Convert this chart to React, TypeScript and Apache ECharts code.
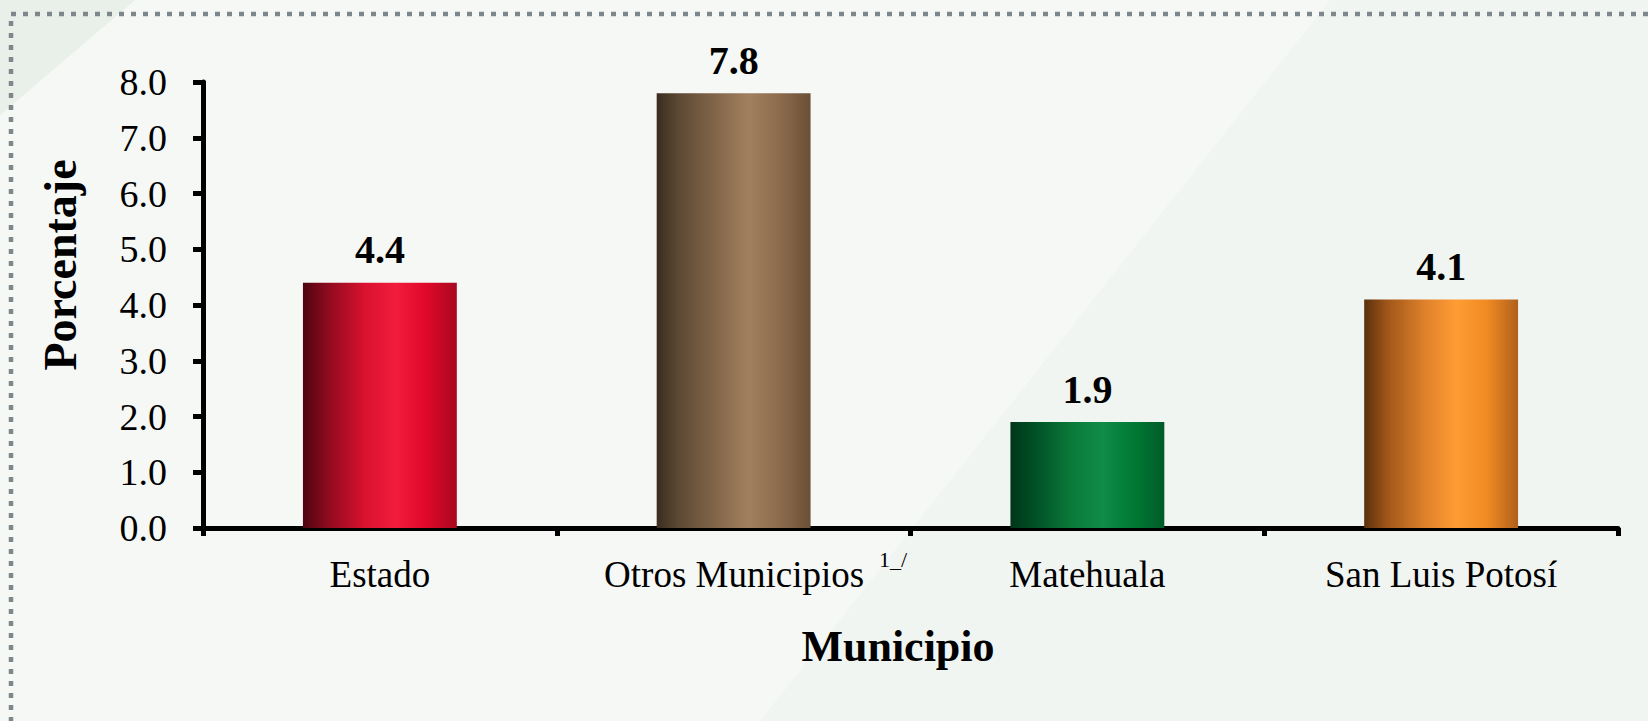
import React, { useEffect, useRef } from "react";
import * as echarts from "echarts";

const categories = ["Estado", "Otros Municipios", "Matehuala", "San Luis Potosí"];
const values = [4.4, 7.8, 1.9, 4.1];
const footnotes = ["", "1_/", "", ""];
const barColors = [
  ["#4e0410", "#8a0a1e", "#d8122f", "#f21c3c", "#e0082a", "#a8081f"],
  ["#3a2d20", "#5e4a34", "#85684c", "#a1805f", "#8c6b4c", "#6a5036"],
  ["#00361a", "#004f25", "#0b7a3a", "#0f8c48", "#007a35", "#005b27"],
  ["#5a300c", "#a0561a", "#e0822a", "#ff9c34", "#f08a22", "#b0601c"],
];
const gradStops = [0, 0.15, 0.4, 0.6, 0.8, 1];

const FONT = "'Liberation Serif', 'Times New Roman', serif";

export default function App() {
  const ref = useRef<HTMLDivElement>(null);
  useEffect(() => {
    if (!ref.current) return;
    const chart = echarts.init(ref.current, null, { renderer: "svg" });
    const data = values.map((v, i) => ({
      value: v,
      itemStyle: {
        color: new echarts.graphic.LinearGradient(
          0, 0, 1, 0,
          barColors[i].map((c, k) => ({ offset: gradStops[k], color: c }))
        ),
      },
    }));
    chart.setOption({
      animation: false,
      backgroundColor: "#f1f5f1",
      graphic: [
        {
          type: "polygon",
          silent: true,
          z: -10,
          shape: { points: [[135, 0], [1330, 0], [760, 721], [0, 721], [0, 115]] },
          style: { fill: "#f6f8f6" },
        },
        {
          type: "polygon",
          silent: true,
          z: -10,
          shape: { points: [[0, 0], [135, 0], [0, 115]] },
          style: { fill: "#e9f0ea" },
        },
        {
          type: "rect",
          silent: true,
          z: -5,
          shape: { x: 11, y: 14, width: 3000, height: 3000 },
          style: { fill: "none", stroke: "#7d878c", lineWidth: 4.5, lineDash: [5, 7] },
        },
      ],
      grid: { left: 203, right: 30, top: 82, bottom: 193, containLabel: false },
      xAxis: {
        type: "category",
        data: categories,
        name: "Municipio",
        nameLocation: "middle",
        nameGap: 96,
        nameTextStyle: {
          fontFamily: FONT,
          fontWeight: "bold",
          fontSize: 44,
          color: "#000",
          padding: [0, 25, 0, 0],
        },
        axisLine: { lineStyle: { color: "#000", width: 5 } },
        axisTick: { show: true, interval: 0, length: 8, lineStyle: { color: "#000", width: 5 } },
        axisLabel: {
          interval: 0,
          margin: 28,
          color: "#000",
          fontFamily: FONT,
          fontSize: 37,
          formatter: (v: string, i: number) =>
            footnotes[i]
              ? `{pad| }{a|${v}}{sup|${footnotes[i]}}`
              : v,
          rich: {
            a: { fontFamily: FONT, fontSize: 37, color: "#000" },
            pad: { width: 44, fontSize: 22 },
            sup: {
              fontFamily: FONT,
              fontSize: 22,
              lineHeight: 22,
              color: "#000",
              verticalAlign: "top",
              padding: [-8, 0, 0, 15],
            },
          },
        },
        splitLine: { show: false },
      },
      yAxis: {
        type: "value",
        min: 0,
        max: 8,
        interval: 1,
        name: "Porcentaje",
        nameLocation: "middle",
        nameGap: 120,
        nameTextStyle: {
          fontFamily: FONT,
          fontWeight: "bold",
          fontSize: 46,
          color: "#000",
          padding: [0, 0, 0, 80],
        },
        axisLine: { show: true, lineStyle: { color: "#000", width: 5 } },
        axisTick: { show: true, length: 10, lineStyle: { color: "#000", width: 5 } },
        axisLabel: {
          margin: 36,
          color: "#000",
          fontFamily: FONT,
          fontSize: 38,
          formatter: (v: number) => v.toFixed(1),
        },
        splitLine: { show: false },
      },
      series: [
        {
          type: "bar",
          data,
          barWidth: "43.5%",
          label: {
            show: true,
            position: "top",
            distance: 13,
            color: "#000",
            fontFamily: FONT,
            fontWeight: "bold",
            fontSize: 40,
            formatter: (p: any) => Number(p.value).toFixed(1),
          },
        },
      ],
    });
    return () => chart.dispose();
  }, []);
  return (
    <div
      ref={ref}
      style={{ position: "absolute", left: 0, top: 0, width: 1648, height: 721 }}
    />
  );
}
